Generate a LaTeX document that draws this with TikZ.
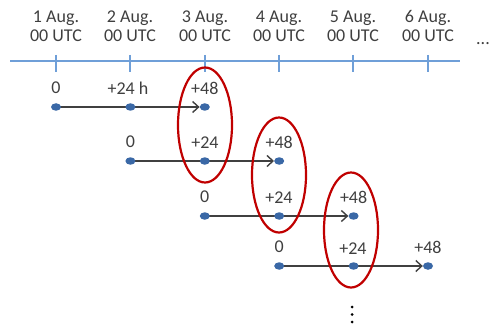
\documentclass[tikz,border=0pt]{standalone}
\usepackage{fontspec}
\setmainfont{Carlito}
\usetikzlibrary{arrows.meta,shapes.geometric,backgrounds}
\definecolor{axisblue}{HTML}{6F9FD8}
\definecolor{dotblue}{HTML}{3A68A6}
\definecolor{linegray}{HTML}{404040}
\definecolor{ringred}{HTML}{C00000}
\definecolor{txtgray}{HTML}{3F3F3F}

\begin{document}
\begin{tikzpicture}[x=1pt,y=-1pt,
  dot/.style={ellipse, fill=dotblue, inner sep=0pt, minimum width=10pt, minimum height=7.5pt},
  smalldot/.style={circle, fill=black, inner sep=0pt, minimum size=3pt},
  lbl/.style={text=txtgray, font=\fontsize{18}{19}\selectfont, inner sep=0pt},
  daylbl/.style={lbl, align=center},
  conn/.style={draw=linegray, line width=1.4pt, -{Straight Barb[length=6pt,width=11pt,line width=1.4pt]}},
  ring/.style={ellipse, draw=ringred, line width=2.2pt, inner sep=0pt, minimum width=54pt, minimum height=115pt},
  axis/.style={draw=axisblue, line width=1.3pt}]

\useasboundingbox (0,0) rectangle (492,326);

% time axis with daily ticks
\coordinate (axL) at (10,61);
\coordinate (axR) at (460,61);
\draw[axis] (axL) -- (axR);
\foreach \i/\x in {1/56,2/130,3/205,4/279,5/353,6/428}{
  \draw[axis] (\x,55) -- (\x,72);
  \node[daylbl] (day\i) at (\x,26) {\i\ Aug.\\00 UTC};
}
\node[lbl] (more) at (483,44) {...};

% forecast runs: one row per initial time
\foreach \r/\y in {0/107,1/161,2/216,3/266}{
  \pgfmathsetmacro{\xa}{56+74.4*\r}
  \pgfmathsetmacro{\xb}{56+74.4*(\r+1)}
  \pgfmathsetmacro{\xc}{56+74.4*(\r+2)}
  \node[dot] (r\r a) at (\xa,\y) {};
  \node[dot] (r\r b) at (\xb,\y) {};
  \node[dot] (r\r c) at (\xc,\y) {};
  \node[lbl] (l\r a) at (\xa,\y-19) {0};
  \node[lbl] (l\r c) at (\xc,\y-19) {+48};
  \begin{scope}[on background layer]
    \draw[conn] (r\r a.center) -- (r\r c.west);
  \end{scope}
}
\node[lbl] (l0b) at (128,88) {+24 h};
\node[lbl] (l1b) at (205,143) {+24};
\node[lbl] (l2b) at (279,198) {+24};
\node[lbl] (l3b) at (353,249) {+24};

% forecasts valid at the same time
\node[ring] (v3) at (205,125) {};
\node[ring] (v4) at (279,175) {};
\node[ring] (v5) at (351,230) {};

% further runs continue below
\node[smalldot] (cont1) at (352,307) {};
\node[smalldot] (cont2) at (352,314.5) {};
\node[smalldot] (cont3) at (352,322) {};
\end{tikzpicture}
\end{document}
